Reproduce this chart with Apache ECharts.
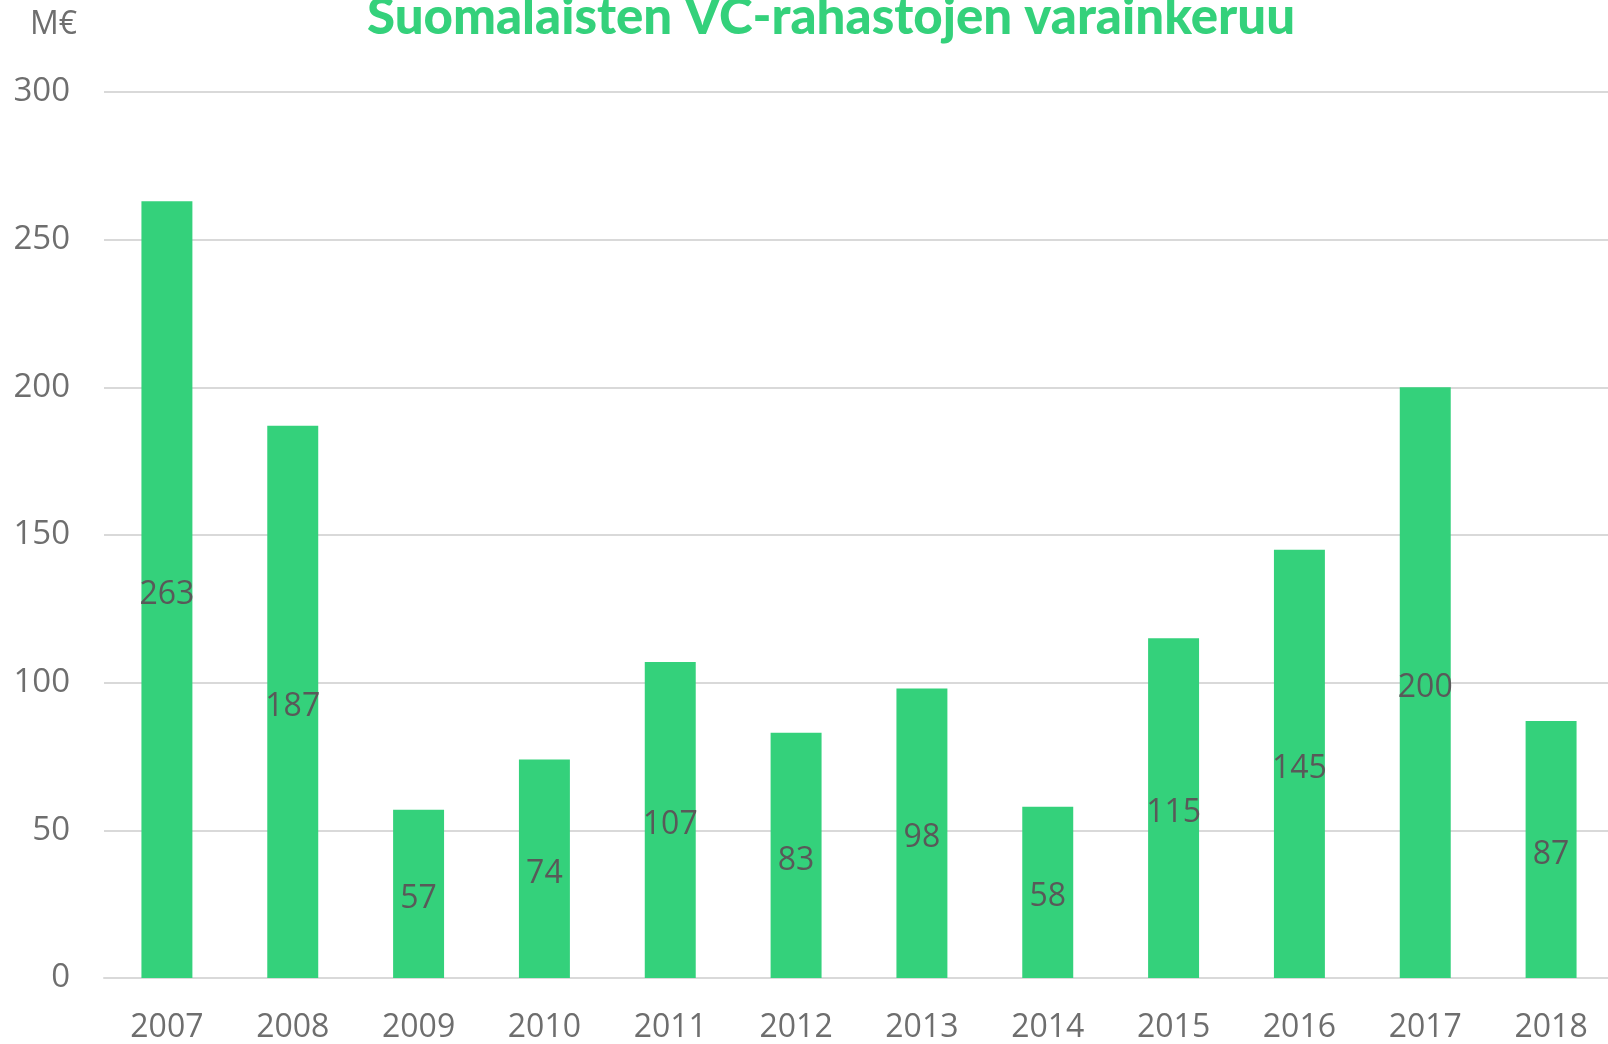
<!DOCTYPE html>
<html>
<head>
<meta charset="utf-8">
<script src="https://cdn.jsdelivr.net/npm/echarts@6/dist/echarts.min.js"></script>
<style>
html,body{margin:0;padding:0;background:#fff;overflow:hidden;}
#chart{width:1614px;height:1044px;}
</style>
</head>
<body>
<div id="chart"></div>
<script>
var titleText = 'Suomalaisten VC-rahastojen varainkeruu';
var unitLabel = 'M€';
var years = ['2007','2008','2009','2010','2011','2012','2013','2014','2015','2016','2017','2018'];
var fundraising = [263, 187, 57, 74, 107, 83, 98, 58, 115, 145, 200, 87];

var chart = echarts.init(document.getElementById('chart'), null, {renderer: 'canvas'});
chart.setOption({
  backgroundColor: '#ffffff',
  animation: false,
  title: {
    text: titleText,
    left: 826,
    textAlign: 'center',
    top: -13,
    textStyle: {
      fontFamily: 'Lato',
      fontWeight: 900,
      fontSize: 51,
      lineHeight: 51,
      color: '#34D17B'
    }
  },
  grid: {left: 104, right: 0, top: 92, bottom: 63, containLabel: false},
  xAxis: {
    type: 'category',
    data: years,
    axisTick: {show: false},
    axisLine: {lineStyle: {color: '#d9d9d9', width: 2}},
    axisLabel: {
      margin: 34,
      fontFamily: 'Open Sans',
      fontSize: 32,
      color: '#6e6e6e'
    }
  },
  yAxis: {
    type: 'value',
    min: 0,
    max: 300,
    interval: 50,
    name: unitLabel,
    nameLocation: 'end',
    nameGap: 51,
    nameTextStyle: {
      fontFamily: 'Open Sans',
      fontSize: 32,
      color: '#6e6e6e',
      align: 'right',
      padding: [0, 27, 0, 0]
    },
    axisLine: {show: false},
    axisTick: {show: false},
    splitLine: {lineStyle: {color: '#d9d9d9', width: 2}},
    axisLabel: {
      margin: 34,
      padding: [6, 0, 0, 0],
      fontFamily: 'Open Sans',
      fontSize: 33,
      color: '#6e6e6e'
    }
  },
  series: [{
    type: 'bar',
    data: fundraising,
    barWidth: '40.5%',
    itemStyle: {color: '#34D17B'},
    label: {
      show: true,
      position: 'inside',
      offset: [0, 5],
      fontFamily: 'Open Sans',
      fontSize: 32,
      color: '#595959'
    }
  }]
});
</script>
</body>
</html>
